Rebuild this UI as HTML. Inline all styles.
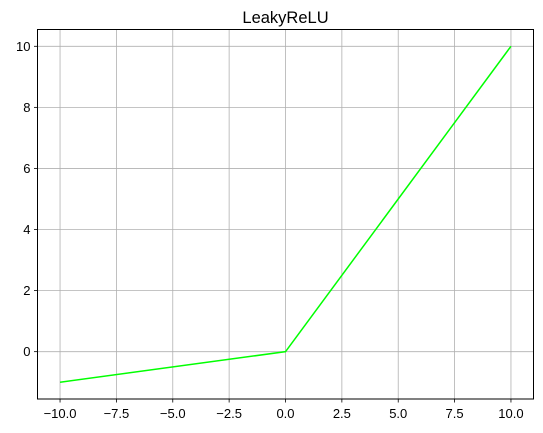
<!DOCTYPE html>
<html><head><meta charset="utf-8"><style>
body{margin:0;background:#fff;}
svg{display:block;font-family:"Liberation Sans","DejaVu Sans",sans-serif;}
</style></head><body>
<svg id="chart" width="543" height="433">
<text x="285.5" y="23" text-anchor="middle" font-size="16.5" fill="#000">LeakyReLU</text>
<g id="grid"></g>
<g id="ticks"></g>
<g id="series"></g>
<rect x="37.5" y="29.5" width="496" height="369.5" fill="none" stroke="#000" stroke-width="1"/>
</svg>
<script>
const xValues = [-10, 0, 10];
const yValues = [-1, 0, 10];
const xTicks = [-10, -7.5, -5, -2.5, 0, 2.5, 5, 7.5, 10];
const xTickLabels = ["−10.0","−7.5","−5.0","−2.5","0.0","2.5","5.0","7.5","10.0"];
const yTicks = [0, 2, 4, 6, 8, 10];
const yTickLabels = ["0","2","4","6","8","10"];

const L=37.5,R=533.5,T=29.5,B=399;
const xmin=-11,xmax=11,ymin=-1.55,ymax=10.55;
const sx=v=>L+(v-xmin)/(xmax-xmin)*(R-L);
const sy=v=>B-(v-ymin)/(ymax-ymin)*(B-T);
const NS="http://www.w3.org/2000/svg";
function mk(tag,attrs,parent,text){const e=document.createElementNS(NS,tag);for(const k in attrs)e.setAttribute(k,attrs[k]);if(text!==undefined)e.textContent=text;parent.appendChild(e);return e;}
const grid=document.getElementById('grid'),ticks=document.getElementById('ticks'),series=document.getElementById('series');
xTicks.forEach((v,i)=>{
  const x=sx(v);
  const g=mk('line',{x1:x,x2:x,y1:T,y2:B,stroke:'#b0b0b0','stroke-width':0.8},grid);
  
  
  const t=mk('line',{x1:x,x2:x,y1:B,y2:B+3.5,stroke:'#000','stroke-width':0.8},ticks);
  
  
  const l=mk('text',{x:x,y:B+19,'text-anchor':'middle','font-size':13},ticks,xTickLabels[i]);
  
  
});
yTicks.forEach((v,i)=>{
  const y=sy(v);
  const g=mk('line',{x1:L,x2:R,y1:y,y2:y,stroke:'#b0b0b0','stroke-width':0.8},grid);
  
  
  const t=mk('line',{x1:L-3.5,x2:L,y1:y,y2:y,stroke:'#000','stroke-width':0.8},ticks);
  
  
  const l=mk('text',{x:L-7,y:y+4.5,'text-anchor':'end','font-size':13},ticks,yTickLabels[i]);
  
  
});
const pts=xValues.map((x,i)=>sx(x)+','+sy(yValues[i])).join(' ');
const pl=mk('polyline',{points:pts,fill:'none',stroke:'#00ff00','stroke-width':1.5},series);


</script>
</body></html>
